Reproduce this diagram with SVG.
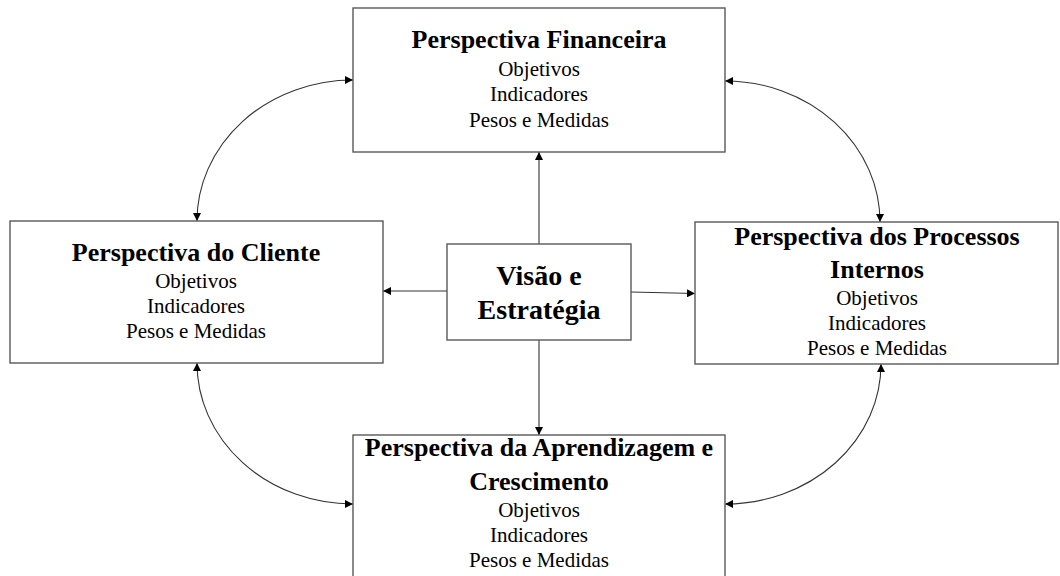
<svg xmlns="http://www.w3.org/2000/svg" width="1060" height="576" viewBox="0 0 1060 576">
<style>
.box{fill:#fff;stroke:#595959;stroke-width:1.4}
.t{font-family:"Liberation Serif","Times New Roman",serif;fill:#000;text-anchor:middle}
.b{font-weight:bold;font-size:26px}
.n{font-size:21px}
.c{font-weight:bold;font-size:28px}
.ln{fill:none;stroke:#333;stroke-width:1.1}
</style>
<defs>
<marker id="ah" viewBox="0 0 10 10" refX="10" refY="5" markerWidth="8" markerHeight="8" markerUnits="userSpaceOnUse" orient="auto-start-reverse">
<path d="M0,0 L10,5 L0,10 z" fill="#000"/>
</marker>
</defs>
<rect width="1060" height="576" fill="#fff"/>
<g id="connectors">
<path class="ln" d="M539,244 L539,152" marker-end="url(#ah)"/>
<path class="ln" d="M447,291 L383,291" marker-end="url(#ah)"/>
<path class="ln" d="M631,292 L695,293.5" marker-end="url(#ah)"/>
<path class="ln" d="M539,340 L539,435" marker-end="url(#ah)"/>
<path class="ln" d="M353,80 A156,141 0 0 0 197,221" marker-start="url(#ah)" marker-end="url(#ah)"/>
<path class="ln" d="M725,81 A155,141 0 0 1 880,222" marker-start="url(#ah)" marker-end="url(#ah)"/>
<path class="ln" d="M197,363 A156,141 0 0 0 353,504" marker-start="url(#ah)" marker-end="url(#ah)"/>
<path class="ln" d="M881,364 A156,140 0 0 1 725,504" marker-start="url(#ah)" marker-end="url(#ah)"/>
</g>
<g id="financeira">
<rect class="box" x="353" y="8" width="372" height="144"/>
<text class="t b" x="539" y="48">Perspectiva Financeira</text>
<text class="t n" x="539" y="76">Objetivos</text>
<text class="t n" x="539" y="101">Indicadores</text>
<text class="t n" x="539" y="127">Pesos e Medidas</text>
</g>
<g id="cliente">
<rect class="box" x="10" y="221" width="373" height="142"/>
<text class="t b" x="196" y="261">Perspectiva do Cliente</text>
<text class="t n" x="196" y="288">Objetivos</text>
<text class="t n" x="196" y="313">Indicadores</text>
<text class="t n" x="196" y="338">Pesos e Medidas</text>
</g>
<g id="visao">
<rect class="box" x="447" y="244" width="184" height="96"/>
<text class="t c" x="539" y="285">Visão e</text>
<text class="t c" x="539" y="319">Estratégia</text>
</g>
<g id="processos">
<rect class="box" x="695" y="222" width="363" height="142"/>
<text class="t b" x="877" y="245">Perspectiva dos Processos</text>
<text class="t b" x="877" y="278">Internos</text>
<text class="t n" x="877" y="305">Objetivos</text>
<text class="t n" x="877" y="330">Indicadores</text>
<text class="t n" x="877" y="355">Pesos e Medidas</text>
</g>
<g id="aprendizagem">
<rect class="box" x="353" y="435" width="372" height="150"/>
<text class="t b" x="539" y="456">Perspectiva da Aprendizagem e</text>
<text class="t b" x="539" y="490">Crescimento</text>
<text class="t n" x="539" y="517">Objetivos</text>
<text class="t n" x="539" y="542">Indicadores</text>
<text class="t n" x="539" y="567">Pesos e Medidas</text>
</g>
</svg>
